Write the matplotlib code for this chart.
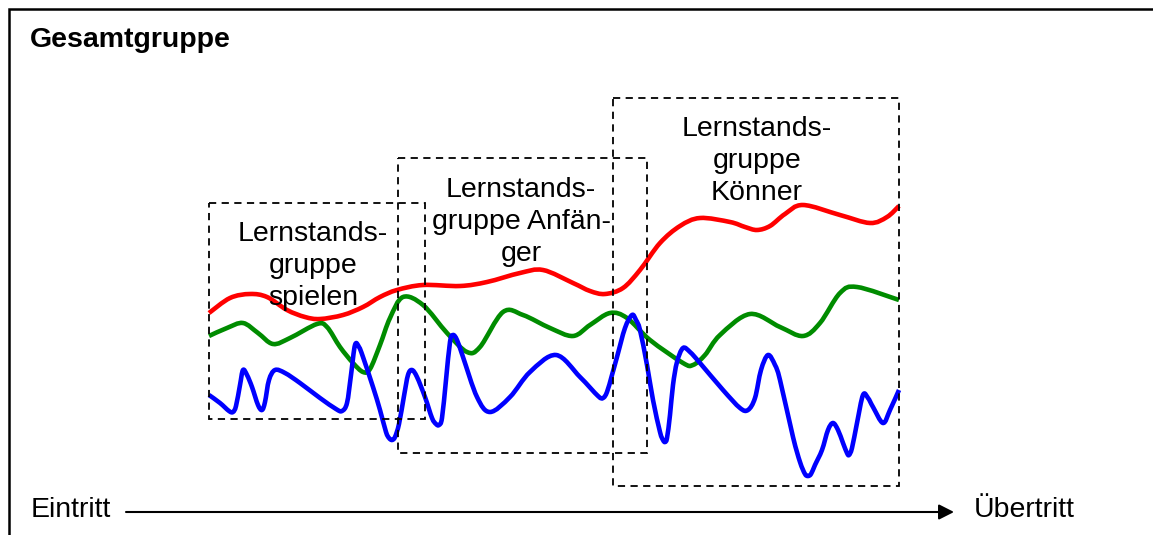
import matplotlib
matplotlib.use("Agg")
import matplotlib.pyplot as plt
from matplotlib.patches import Rectangle, FancyArrowPatch, PathPatch
from matplotlib.path import Path

plt.rcParams['font.family'] = ['Liberation Sans', 'DejaVu Sans']

# curves (x, y in pixel units, y pointing down)
red_x = [209, 230, 250, 267, 287, 305, 320, 343, 363, 380, 397, 423, 460, 487, 520,
         543, 573, 590, 605, 623, 640, 660, 680, 700, 730, 745, 757, 770, 785, 803,
         840, 870, 887, 899]
red_y = [313, 298, 294, 297, 310, 317, 319, 315, 307, 297, 290, 285, 286, 282, 273,
         270, 283, 291, 294, 288, 270, 243, 226, 218, 222, 227, 230, 226, 214, 205,
         215, 223, 217, 206]

green_x = [209, 227, 243, 258, 273, 290, 317, 327, 340, 353, 363, 370, 380, 390,
           403, 423, 447, 467, 480, 503, 523, 550, 573, 590, 610, 627, 650, 683, 693,
           705, 720, 750, 780, 803, 820, 840, 857, 899]
green_y = [336, 328, 323, 333, 344, 338, 324, 327, 347, 363, 372, 369, 345, 318,
           297, 305, 333, 352, 347, 312, 315, 328, 336, 325, 313, 318, 340, 363, 365,
           355, 335, 314, 327, 336, 323, 293, 287, 300]

blue_x = [209, 220, 229, 233, 236, 240, 243, 247, 252, 258, 262, 265, 269, 275, 285,
          300, 320, 336, 342, 347, 351, 355, 359, 363, 373, 380, 386, 389, 392, 395,
          399, 404, 408, 412, 417, 425, 432, 436, 439, 442, 446, 450, 453, 457, 463,
          477, 490, 510, 530, 556, 580, 598, 603, 607, 612, 617, 625, 632, 636, 640,
          647, 653, 660, 663, 665, 667, 670, 673, 677, 683, 690, 700, 723, 740, 748,
          755, 761, 768, 775, 780, 793, 800, 805, 808, 811, 815, 822, 828, 833, 838,
          843, 847, 849, 852, 857, 863, 868, 873, 883, 890, 899]
blue_y = [395, 403, 411, 412, 406, 385, 370, 375, 387, 405, 410, 402, 380, 370, 373,
          383, 398, 409, 411, 403, 375, 345, 347, 357, 387, 410, 432, 438, 440, 437,
          424, 396, 375, 370, 377, 397, 418, 424, 425, 418, 380, 342, 335, 340, 357,
          397, 412, 397, 372, 355, 377, 396, 398, 392, 375, 357, 328, 315, 320, 330,
          365, 400, 432, 440, 442, 438, 415, 385, 362, 348, 352, 363, 390, 408, 410,
          398, 370, 355, 365, 380, 437, 462, 474, 476, 474, 465, 450, 430, 423, 430,
          443, 453, 455, 448, 423, 395, 398, 407, 423, 410, 390]

# groups: label, box (left, top, right, bottom), text centre
group_labels = ["Lernstands-\ngruppe\nspielen",
                "Lernstands-\ngruppe Anfän-\nger",
                "Lernstands-\ngruppe\nKönner"]
group_boxes = [(209, 203, 425, 419), (398, 158, 647, 453), (613, 98, 899, 486)]
group_text_pos = [(313, 266), (521, 222), (757, 161)]


def smooth_path(xs, ys):
    # draw a smooth curve through the read points (Catmull-Rom as Bezier segments)
    pts = list(zip(xs, ys))
    verts = [pts[0]]
    codes = [Path.MOVETO]
    for i in range(len(pts) - 1):
        p0 = pts[max(i - 1, 0)]
        p1 = pts[i]
        p2 = pts[i + 1]
        p3 = pts[min(i + 2, len(pts) - 1)]
        c1 = (p1[0] + (p2[0] - p0[0]) / 6, p1[1] + (p2[1] - p0[1]) / 6)
        c2 = (p2[0] - (p3[0] - p1[0]) / 6, p2[1] - (p3[1] - p1[1]) / 6)
        verts += [c1, c2, p2]
        codes += [Path.CURVE4] * 3
    return Path(verts, codes)


fig = plt.figure(figsize=(11.53, 5.35), dpi=100)
ax = fig.add_axes([0, 0, 1, 1])
ax.set_xlim(0, 1153)
ax.set_ylim(535, 0)
ax.axis('off')

# outer frame (left and top edge)
ax.plot([9, 9, 1153], [535, 9, 9], color='black', lw=1.8, solid_joinstyle='miter')
ax.text(30, 47, "Gesamtgruppe", fontsize=20.5, fontweight='bold', ha='left', va='baseline')

for xs, ys, col in [(red_x, red_y, '#ff0000'), (green_x, green_y, '#008c00'),
                    (blue_x, blue_y, '#0000ff')]:
    ax.add_patch(PathPatch(smooth_path(xs, ys), fill=False, ec=col, lw=3.3,
                           capstyle='butt', joinstyle='round', zorder=2))

for (l, t, r, b), label, (tx, ty) in zip(group_boxes, group_labels, group_text_pos):
    ax.add_patch(Rectangle((l, t), r - l, b - t, fill=False, ec='black', lw=1.3,
                           ls=(0, (4, 3)), zorder=3))
    ax.text(tx, ty, label, fontsize=20.5, ha='center', va='center',
            multialignment='center', linespacing=1.32, zorder=4)

# time axis at the bottom
ax.text(31, 517, "Eintritt", fontsize=20.5, ha='left', va='baseline')
ax.text(974, 517, "Übertritt", fontsize=20.5, ha='left', va='baseline')
ax.add_patch(FancyArrowPatch((126, 512), (954, 512),
                             arrowstyle='-|>,head_length=0.65,head_width=0.33',
                             mutation_scale=14, color='black', lw=1.5,
                             shrinkA=0, shrinkB=0))

fig.savefig("out.png", dpi=100)
